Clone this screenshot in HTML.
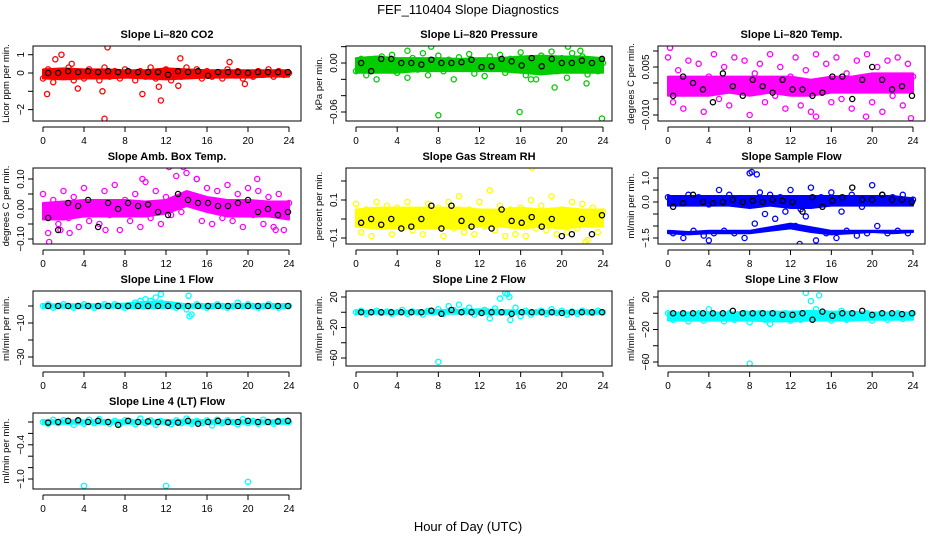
<!DOCTYPE html>
<html><head><meta charset="utf-8"><style>
html,body{margin:0;padding:0;background:#fff;}
svg{display:block;font-family:"Liberation Sans",sans-serif;}
</style></head><body>
<svg id="chart" width="936" height="540" viewBox="0 0 936 540">
<text x="468" y="14" font-size="13" text-anchor="middle">FEF_110404  Slope Diagnostics</text>
<text x="468" y="531" font-size="13" text-anchor="middle">Hour of Day (UTC)</text>
</svg>
<script>
// ---- data arrays ----
const halfHourIdx = 49;   // scatter samples every 0.5 h
const blackCount = 25;    // summary samples
const bandHours = [0,2,4,6,8,10,12,14,16,18,20,22,24];
const xTicks = [0,4,8,12,16,20,24];

const co2Vals = [-0.3,0.2,-0.5,0.1,-0.2,0.3,-0.4,0.0,-0.3,0.2,-0.1,-0.4,0.3,-0.2,0.1,-0.3,0.2,-0.1,-0.4,0.1,-0.2,0.3,-0.3,0.0,0.2,-0.4,0.1,-0.2,0.3,-0.1,0.2,-0.3,0.1,-0.2,0.0,-0.3,0.2,-0.1,0.1,-0.3,0.0,-0.2,0.1,-0.1,0.2,-0.2,0.1,-0.1,0.0];
const co2OutX = [0.4,6,11.5,1.8,6.3,9.7,13.4,1.2,18.2,19.7,3.4,5.8,11.3,2.8,13.2];
const co2OutY = [-1.15,-2.5,-1.5,1.0,1.4,-1.15,0.8,0.75,0.6,-0.6,-0.85,-1.0,-0.75,0.5,-0.7];
const co2Black = [0,0,0.1,0.05,0.1,0.05,0.1,0.05,0.1,0.05,0.05,0.05,-0.1,0.1,0.05,0.1,-0.15,0.05,0.05,0.05,0.0,0.05,0.05,0.05,0.05];
const co2Up = [0.2,0.25,0.2,0.2,0.15,0.15,0.25,0.2,0.15,0.15,0.15,0.15,0.15];
const co2Lo = [-0.3,-0.35,-0.3,-0.3,-0.25,-0.3,-0.35,-0.3,-0.25,-0.25,-0.25,-0.2,-0.2];

const presVals = [-0.01,0.005,-0.015,0.0,-0.02,0.008,-0.005,0.01,-0.012,0.003,-0.018,0.006,-0.008,0.012,-0.015,0.0,0.009,-0.01,0.004,-0.02,0.007,-0.006,0.011,-0.013,0.002,-0.016,0.008,-0.004,0.01,-0.012,0.005,-0.009,0.013,-0.015,0.003,-0.02,0.009,-0.007,0.014,-0.01,0.006,-0.018,0.012,-0.005,0.008,-0.014,0.004,-0.01,0.0];
const presOutX = [8,15.9,23.9,19.3,22.4,7.3,20.6,17,5,21.8];
const presOutY = [-0.064,-0.06,-0.068,-0.03,-0.025,0.02,0.02,-0.02,0.015,0.015];
const presBlack = [0,-0.01,0.005,0.005,0,0,-0.002,0.004,0,0,0.001,0.004,-0.005,-0.004,0.005,0.002,-0.003,0.006,-0.004,0.005,0,0,0.003,0,0.005];
const presUp = [0.006,0.008,0.006,0.006,0.006,0.005,0.006,0.006,0.008,0.009,0.008,0.008,0.006];
const presLo = [-0.012,-0.012,-0.012,-0.01,-0.01,-0.01,-0.01,-0.01,-0.012,-0.014,-0.012,-0.012,-0.012];

const tempVals = [0.008,-0.006,0.004,-0.008,0.007,-0.003,0.006,-0.009,0.002,0.009,-0.005,0.005,-0.007,0.008,-0.002,0.007,-0.010,0.003,0.006,-0.006,0.009,-0.004,0.005,-0.008,0.002,0.008,-0.007,0.004,-0.009,0.009,-0.003,0.006,-0.006,0.008,-0.005,0.003,-0.008,0.007,-0.002,0.009,-0.006,0.005,-0.009,0.007,-0.004,0.008,-0.007,0.006,0.002];
const tempOutX = [0.2,14.5,19.4,23.8];
const tempOutY = [0.011,-0.0105,-0.0105,-0.011];
const tempBlack = [-0.004,0.002,0,-0.002,-0.006,0.003,-0.001,-0.004,0.001,-0.001,-0.003,0.001,-0.002,-0.002,-0.004,-0.003,0.002,0.002,-0.005,0.001,0.005,0.001,-0.002,-0.001,-0.004];
const tempUp = [0.002,0.002,0.002,0.002,0.002,0.002,0.002,0.001,0.002,0.002,0.003,0.003,0.003];
const tempLo = [-0.004,-0.004,-0.004,-0.003,-0.004,-0.003,-0.004,-0.004,-0.003,-0.003,-0.003,-0.003,-0.003];

const ambVals = [0.05,-0.08,0.03,-0.05,0.06,-0.03,0.04,-0.06,0.07,-0.04,0.02,-0.05,0.06,-0.02,0.08,-0.07,0.03,-0.04,0.05,-0.06,0.09,-0.03,0.06,-0.05,0.04,-0.02,0.11,-0.01,0.12,0.03,0.1,-0.04,0.07,-0.05,0.06,-0.03,0.08,-0.04,0.05,-0.06,0.07,-0.02,0.06,-0.05,0.04,-0.06,0.05,-0.07,0.02];
const ambOutX = [0.6,2.6,9.7,12.3,13.7,15,20.9,6.1,22.7,1.7];
const ambOutY = [-0.11,-0.08,0.1,0.14,0.14,0.1,0.1,-0.07,-0.07,-0.07];
const ambBlack = [-0.03,-0.07,0.02,0.01,0.03,-0.06,0.02,0.0,0.02,0.01,0.015,-0.01,-0.02,0.05,0.03,0.02,0.02,0.01,0.01,0.02,0.03,-0.01,0.0,-0.02,-0.01];
const ambUp = [0.02,0.025,0.03,0.03,0.03,0.025,0.03,0.06,0.04,0.03,0.03,0.025,0.025];
const ambLo = [-0.035,-0.035,-0.025,-0.025,-0.025,-0.025,-0.015,0.01,-0.01,-0.025,-0.025,-0.025,-0.035];

const rhVals = [0.08,-0.07,0.05,-0.09,0.09,-0.04,0.07,-0.08,0.06,-0.05,0.09,-0.06,0.04,-0.08,0.08,-0.03,0.06,-0.09,0.09,-0.05,0.12,-0.07,0.05,-0.08,0.09,-0.04,0.15,-0.06,0.07,-0.09,0.05,-0.08,0.06,-0.09,0.1,-0.05,0.07,-0.06,0.12,-0.08,0.05,-0.07,0.09,-0.05,0.08,-0.11,0.06,-0.07,0.04];
const rhOutX = [17.1,13,22.3];
const rhOutY = [0.27,0.15,-0.12];
const rhBlack = [-0.02,0.0,-0.03,0.0,-0.05,-0.04,0.0,0.07,-0.05,0.07,-0.01,-0.04,0.0,-0.05,0.05,-0.01,-0.02,0.01,-0.04,0.0,-0.09,-0.08,0.0,-0.08,0.02];
const rhUp = [0.05,0.06,0.06,0.06,0.06,0.06,0.05,0.05,0.06,0.05,0.06,0.05,0.05];
const rhLo = [-0.04,-0.05,-0.05,-0.05,-0.05,-0.05,-0.04,-0.04,-0.05,-0.04,-0.05,-0.04,-0.04];

const flowVals = [0.2,-1.3,0.1,-1.5,0.3,-1.2,0.2,-1.4,-0.1,-1.3,0.5,-1.2,0.3,-1.3,0.1,-1.5,1.2,-0.9,0.4,-0.5,0.3,-0.7,0.2,-0.4,0.5,-1.0,-0.3,-0.6,0.6,-1.6,0.2,-1.3,0.4,-1.5,-0.4,-1.2,0.3,-1.4,-0.2,-1.3,0.7,-1.0,0.3,-1.3,0.2,-1.2,0.3,-1.3,0.1];
const flowOutX = [8.2,8.7,12.9,4];
const flowOutY = [1.25,1.15,-1.75,-1.6];
const flowBlack = [-0.2,-0.05,0.3,0.0,-0.05,0.0,0.1,0.0,0.05,0.0,0.1,0.05,0.0,-0.4,0.2,-0.2,0.05,0.2,0.6,0.1,0.1,0.3,0.1,0.1,0.0];
const flowUp = [0.25,0.25,0.25,0.25,0.25,0.25,0.25,0.25,0.25,0.25,0.25,0.25,0.15];
const flowLo = [-0.15,-0.15,-0.15,-0.15,-0.25,-0.15,-0.25,-0.25,-0.15,-0.15,-0.15,-0.15,-0.15];
const flowUp2 = [-1.2,-1.25,-1.2,-1.2,-1.2,-1.05,-0.9,-1.05,-1.2,-1.2,-1.2,-1.2,-1.2];
const flowLo2 = [-1.3,-1.35,-1.3,-1.3,-1.3,-1.2,-1.1,-1.25,-1.35,-1.3,-1.25,-1.3,-1.25];

const l1Vals = [0,1,-1,0,1,0,-1,0,1,0,-1,0,1,0,1,0,-1,0,2,3,4,3,5,2,1,0,-1,0,-2,-5,1,0,-1,0,1,0,-1,0,2,0,1,0,-1,0,1,0,-1,0,0];
const l1OutX = [8,11.5,14.2,14.3];
const l1OutY = [-37,7,6,-6];
const l1Black = [0,0,0,0,0,0,0,0,0,0,0,0,0,0,0,0,0,0,0,0,0,0,0,0,0];
const l1Up = [1,1,1,1,1.5,2.5,2.5,1,1,1,1,1,1];
const l1Lo = [-1,-1,-1,-1,-1,-1.5,-1,-1,-1,-1,-1,-1,-1];

const l2Vals = [0,2,-2,0,2,-1,1,-2,0,3,-2,1,0,-3,2,0,4,-2,8,3,10,2,6,-3,0,3,-8,5,18,25,-10,6,-5,2,-3,0,2,-2,4,-1,2,-3,1,-2,2,0,-1,2,0];
const l2OutX = [8,14.7,14.9];
const l2OutY = [-65,24,20];
const l2Black = [0,0,0,0,0,0,0,2,-2,3,0,0,-1,0,0,-2,0,0,0,0,-1,0,0,0,0];
const l2Up = [2,2,2,2,3,3,4,3,2,2,2,2,2];
const l2Lo = [-2,-2,-2,-2,-2,-2,-2,-3,-2,-2,-2,-2,-2];

const l3Vals = [0,-8,-5,0,-10,-3,0,-9,5,-6,-2,-10,0,-8,-4,0,-11,-5,0,-8,-13,-2,-7,0,-9,-4,-8,25,15,5,-6,0,-9,-4,3,-8,0,-6,-3,0,-9,-5,0,-8,-2,0,-7,-3,0];
const l3OutX = [8,14.8];
const l3OutY = [-62,22];
const l3Black = [0,0,0,0,0,0,3,0,0,0,0,-2,-2,0,-8,2,-3,0,0,3,-2,0,0,-1,0];
const l3Up = [1,1,1,1,2,2,2,3,2,2,1,1,1];
const l3Lo = [-9,-9,-9,-9,-9,-10,-10,-9,-9,-9,-8,-8,-8];

const l4Vals = [0,-0.03,0.04,-0.02,0.03,0,-0.05,0.02,-0.03,0.04,-0.02,0.05,0,-0.03,0.02,-0.04,0.03,0.01,-0.04,0.06,-0.02,0.03,-0.05,0.02,0,-0.04,0.03,-0.02,0.06,-0.03,0.02,-0.02,0.03,-0.06,0.04,-0.02,0.03,0,-0.04,0.05,-0.02,0.02,-0.03,0.04,0,-0.03,0.02,0.01,0];
const l4OutX = [4,12,20];
const l4OutY = [-1.12,-1.12,-1.05];
const l4Black = [-0.01,0.0,0.02,0.03,0.0,0.02,0.0,-0.05,0.02,0.0,0.01,0.0,-0.01,-0.01,0.02,-0.03,0.0,0.02,0.0,0.0,0.02,0.0,0.0,0.01,0.02];
const l4Up = [0.03,0.03,0.03,0.03,0.03,0.03,0.03,0.04,0.03,0.03,0.03,0.03,0.03];
const l4Lo = [-0.03,-0.03,-0.03,-0.03,-0.03,-0.03,-0.03,-0.03,-0.03,-0.03,-0.03,-0.03,-0.03];

// ---- layout ----
const cols = [{L:33,R:301,x0:43,x24:289},{L:346,R:612,x0:356,x24:603},{L:658,R:925,x0:668,x24:913}];
const rows = [{T:46,B:121},{T:168,B:244},{T:291,B:366},{T:413,B:489}];
const panels = [
 {id:'co2',title:'Slope Li-820 CO2',ylab:'Licor ppm per min.',c:0,r:0,col:'#ff0000',ya:[0,73,1,54.7],ticks:[1,0,-1,-2],labs:['1','0','','-2'],vals:co2Vals,ox:co2OutX,oy:co2OutY,blk:co2Black,bands:[[co2Up,co2Lo]]},
 {id:'pressure',title:'Slope Li-820 Pressure',ylab:'kPa per min.',c:1,r:0,col:'#00cc00',ya:[0,63,-0.06,112],ticks:[0.02,0,-0.02,-0.04,-0.06],labs:['','0.00','','','-0.06'],vals:presVals,ox:presOutX,oy:presOutY,blk:presBlack,bands:[[presUp,presLo]]},
 {id:'li820-temp',title:'Slope Li-820 Temp.',ylab:'degrees C per min.',c:2,r:0,col:'#ff00ff',ya:[0,83,0.005,67],ticks:[0.01,0.005,0,-0.005,-0.01],labs:['','0.005','','','-0.010'],vals:tempVals,ox:tempOutX,oy:tempOutY,blk:tempBlack,bands:[[tempUp,tempLo]]},
 {id:'amb-box-temp',title:'Slope Amb. Box Temp.',ylab:'degrees C per min.',c:0,r:1,col:'#ff00ff',ya:[0,209,0.1,179],ticks:[0.1,0.05,0,-0.05,-0.1],labs:['0.10','','0.00','','-0.10'],vals:ambVals,ox:ambOutX,oy:ambOutY,blk:ambBlack,bands:[[ambUp,ambLo]]},
 {id:'gas-rh',title:'Slope Gas Stream RH',ylab:'percent per min.',c:1,r:1,col:'#ffff00',ya:[0,219,0.1,200],ticks:[0.2,0.1,0,-0.1],labs:['','0.1','','-0.1'],vals:rhVals,ox:rhOutX,oy:rhOutY,blk:rhBlack,bands:[[rhUp,rhLo]]},
 {id:'sample-flow',title:'Slope Sample Flow',ylab:'ml/min per min.',c:2,r:1,col:'#0000ff',ya:[0,202,1,178],ticks:[1,0.5,0,-0.5,-1,-1.5],labs:['1.0','','0.0','','','-1.5'],vals:flowVals,ox:flowOutX,oy:flowOutY,blk:flowBlack,bands:[[flowUp,flowLo],[flowUp2,flowLo2]]},
 {id:'line1-flow',title:'Slope Line 1 Flow',ylab:'ml/min per min.',c:0,r:2,col:'#00ffff',ya:[0,306,-10,323],ticks:[0,-10,-20,-30],labs:['','-10','','-30'],vals:l1Vals,ox:l1OutX,oy:l1OutY,blk:l1Black,bands:[[l1Up,l1Lo]]},
 {id:'line2-flow',title:'Slope Line 2 Flow',ylab:'ml/min per min.',c:1,r:2,col:'#00ffff',ya:[20,297,-60,358],ticks:[20,0,-20,-40,-60],labs:['20','','-20','','-60'],vals:l2Vals,ox:l2OutX,oy:l2OutY,blk:l2Black,bands:[[l2Up,l2Lo]]},
 {id:'line3-flow',title:'Slope Line 3 Flow',ylab:'ml/min per min.',c:2,r:2,col:'#00ffff',ya:[20,297,-60,362],ticks:[20,0,-20,-40,-60],labs:['20','','-20','','-60'],vals:l3Vals,ox:l3OutX,oy:l3OutY,blk:l3Black,bands:[[l3Up,l3Lo]]},
 {id:'line4-flow',title:'Slope Line 4 (LT) Flow',ylab:'ml/min per min.',c:0,r:3,col:'#00ffff',ya:[0,422,-1,479],ticks:[0,-0.2,-0.4,-0.6,-0.8,-1.0],labs:['','','-0.4','','','-1.0'],vals:l4Vals,ox:l4OutX,oy:l4OutY,blk:l4Black,bands:[[l4Up,l4Lo]]}
];

const NS='http://www.w3.org/2000/svg';
const svg=document.getElementById('chart');
function mk(tag,attrs,parent){const e=document.createElementNS(NS,tag);for(const k in attrs)e.setAttribute(k,attrs[k]);parent.appendChild(e);return e;}

panels.forEach(p=>{
 const C=cols[p.c],R=rows[p.r];
 const xs=h=>C.x0+(C.x24-C.x0)*h/24;
 const ys=v=>p.ya[1]+(v-p.ya[0])*(p.ya[3]-p.ya[1])/(p.ya[2]-p.ya[0]);
 const g=mk('g',{},svg);
 
 
 const cp=mk('clipPath',{id:'cp-'+p.id},g);
 mk('rect',{x:C.L,y:R.T,width:C.R-C.L,height:R.B-R.T},cp);
 const plot=mk('g',{'clip-path':'url(#cp-'+p.id+')'},g);
 
 
 p.bands.forEach((b,bi)=>{
  let pts=bandHours.map((h,i)=>xs(h)+','+ys(b[0][i]));
  pts=pts.concat(bandHours.map((h,i)=>xs(h)+','+ys(b[1][i])).reverse());
  const pg=mk('polygon',{points:pts.join(' '),fill:p.col,stroke:p.col,'stroke-width':2,'stroke-linejoin':'round'},plot);
  
  
 });
 for(let i=0;i<halfHourIdx;i++){
  const c=mk('circle',{cx:xs(i*0.5),cy:ys(p.vals[i]),r:2.6,fill:'none',stroke:p.col,'stroke-width':1.3},plot);
  
  
 }
 p.ox.forEach((x,i)=>{
  const c=mk('circle',{cx:xs(x),cy:ys(p.oy[i]),r:2.6,fill:'none',stroke:p.col,'stroke-width':1.3},plot);
  
  
 });
 for(let i=0;i<blackCount;i++){
  const c=mk('circle',{cx:xs(0.5+i*0.975),cy:ys(p.blk[i]),r:2.6,fill:'none',stroke:'#000','stroke-width':1.3},plot);
  
  
 }
 const box=mk('rect',{x:C.L,y:R.T,width:C.R-C.L,height:R.B-R.T,fill:'none',stroke:'#000','stroke-width':1},g);
 
 
 const t=mk('text',{x:(C.L+C.R)/2,y:R.T-8,'font-size':11,'font-weight':'bold','text-anchor':'middle'},g);
 t.textContent=p.title.replace(/-/g,'\u2013');
 
 
 const xa=mk('g',{},g);
 
 
 mk('line',{x1:xs(0),x2:xs(24),y1:R.B+6,y2:R.B+6,stroke:'#000'},xa);
 xTicks.forEach(h=>{
  mk('line',{x1:xs(h),x2:xs(h),y1:R.B+6,y2:R.B+11,stroke:'#000'},xa);
  const tl=mk('text',{x:xs(h),y:R.B+23,'font-size':10,'text-anchor':'middle'},xa);
  tl.textContent=h;
  
  
 });
 const ya=mk('g',{},g);
 
 
 const ax=C.L;
 mk('line',{x1:ax,x2:ax,y1:ys(p.ticks[0]),y2:ys(p.ticks[p.ticks.length-1]),stroke:'#000'},ya);
 p.ticks.forEach((v,i)=>{
  const yy=ys(v);
  mk('line',{x1:ax-5,x2:ax,y1:yy,y2:yy,stroke:'#000'},ya);
  if(p.labs[i]){
   const tl=mk('text',{x:ax-9,y:yy,'font-size':10,'text-anchor':'middle',transform:'rotate(-90 '+(ax-9)+' '+yy+')'},ya);
   tl.textContent=p.labs[i].replace('-','\u2212');
   
   
  }
 });
 const yl=mk('text',{x:C.L-24,y:(R.T+R.B)/2,'font-size':9.5,'text-anchor':'middle',transform:'rotate(-90 '+(C.L-24)+' '+((R.T+R.B)/2)+')'},g);
 yl.textContent=p.ylab;
 
 
});
</script>
</body></html>
